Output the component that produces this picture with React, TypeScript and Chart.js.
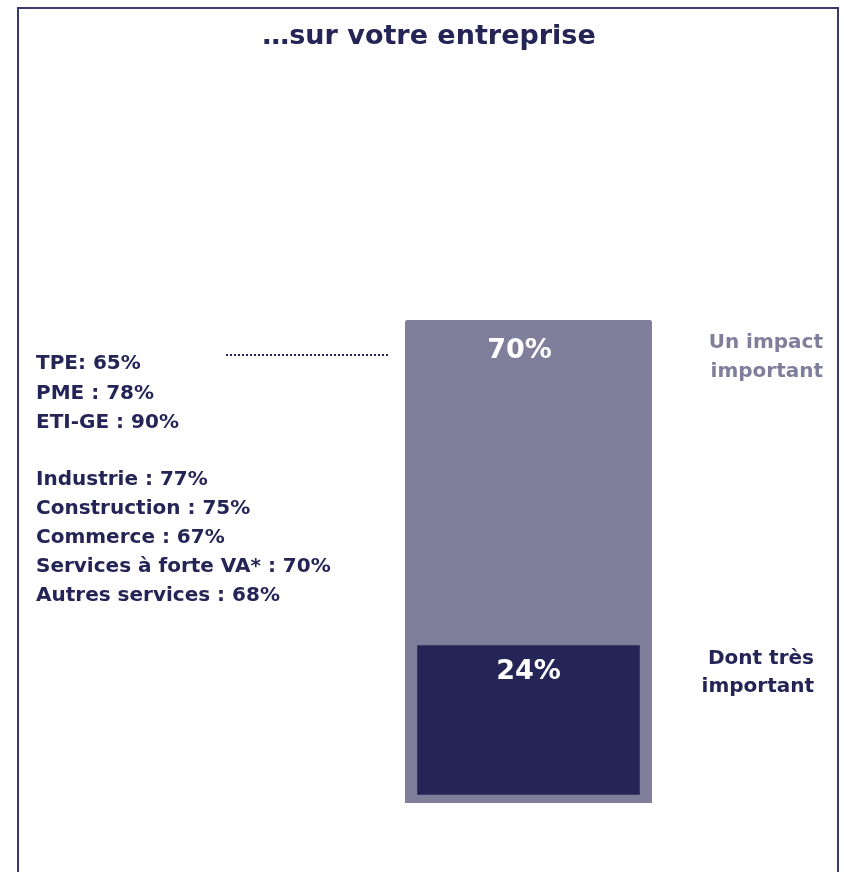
import React, { useEffect, useRef } from "react";
import { Chart, registerables } from "chart.js";

Chart.register(...registerables);

const categories = ["…sur votre entreprise"];
const impactImportant = [70];
const dontTresImportant = [24];
const sizeLines = ["TPE: 65%", "PME : 78%", "ETI-GE : 90%"];
const sectorLines = [
  "Industrie : 77%",
  "Construction : 75%",
  "Commerce : 67%",
  "Services à forte VA* : 70%",
  "Autres services : 68%",
];
const rightLabelsTop = ["Un impact", "important"];
const rightLabelsBottom = ["Dont très", "important"];
const title = "…sur votre entreprise";

const NAVY = "#242456";
const GRAY = "#7f7f9c";
const FONT = "'DejaVu Sans', sans-serif";

const overlay = {
  id: "overlay",
  afterDatasetsDraw(chart: any) {
    const ctx = chart.ctx;
    ctx.save();
    // frame
    ctx.strokeStyle = "#3b3b6b";
    ctx.lineWidth = 2;
    ctx.strokeRect(18, 8, 820, 900);

    // title
    ctx.fillStyle = NAVY;
    ctx.font = `bold 27px ${FONT}`;
    ctx.textAlign = "center";
    ctx.textBaseline = "middle";
    ctx.fillText(title, 429, 37);

    // left lists
    ctx.textAlign = "left";
    ctx.font = `bold 20px ${FONT}`;
    sizeLines.forEach((t, i) => ctx.fillText(t, 36, 364 + i * 29.5));
    sectorLines.forEach((t, i) => ctx.fillText(t, 36, 480 + i * 29));

    // dotted line
    ctx.strokeStyle = NAVY;
    ctx.lineWidth = 2;
    ctx.setLineDash([2, 2]);
    ctx.beginPath();
    ctx.moveTo(226, 355);
    ctx.lineTo(388, 355);
    ctx.stroke();
    ctx.setLineDash([]);

    // value labels
    const m0 = chart.getDatasetMeta(0).data[0];
    const m1 = chart.getDatasetMeta(1).data[0];
    ctx.fillStyle = "#ffffff";
    ctx.textAlign = "center";
    ctx.font = `bold 27px ${FONT}`;
    ctx.fillText(impactImportant[0] + "%", m0.x - 9, m0.y + 31);
    ctx.fillText(dontTresImportant[0] + "%", m1.x, m1.y + 27);

    // right labels
    ctx.textAlign = "right";
    ctx.font = `bold 20px ${FONT}`;
    ctx.fillStyle = GRAY;
    rightLabelsTop.forEach((t, i) => ctx.fillText(t, 823, 343 + i * 29));
    ctx.fillStyle = NAVY;
    rightLabelsBottom.forEach((t, i) => ctx.fillText(t, 814, 659 + i * 28));
    ctx.restore();
  },
};

export default function App() {
  const ref = useRef<HTMLCanvasElement | null>(null);
  useEffect(() => {
    if (!ref.current) return;
    const chart = new Chart(ref.current, {
      type: "bar",
      data: {
        labels: categories,
        datasets: [
          {
            label: "Un impact important",
            data: impactImportant,
            backgroundColor: GRAY,
            borderRadius: 4,
            borderSkipped: false,
            barPercentage: 1,
            categoryPercentage: 1,
            order: 2,
          },
          {
            label: "Dont très important",
            data: dontTresImportant,
            backgroundColor: NAVY,
            borderColor: "#3a3a6c",
            borderWidth: 1,
            borderSkipped: false,
            base: 2.73,
            barPercentage: 0.903,
            categoryPercentage: 1,
            order: 1,
          },
        ],
      },
      options: {
        responsive: false,
        animation: false,
        devicePixelRatio: 1,
        layout: { padding: { left: 405, right: 192, top: 320, bottom: 69 } },
        plugins: { legend: { display: false }, title: { display: false }, tooltip: { enabled: false } },
        scales: {
          x: { display: false, stacked: true },
          y: { display: false, min: 1.6, max: 70, stacked: false },
        },
      },
      plugins: [overlay],
    });
    return () => chart.destroy();
  }, []);
  return (
    <div style={{ position: "absolute", left: 0, top: 0, width: 844, height: 872, background: "#fff" }}>
      <canvas ref={ref} width={844} height={872} style={{ display: "block" }} />
    </div>
  );
}
